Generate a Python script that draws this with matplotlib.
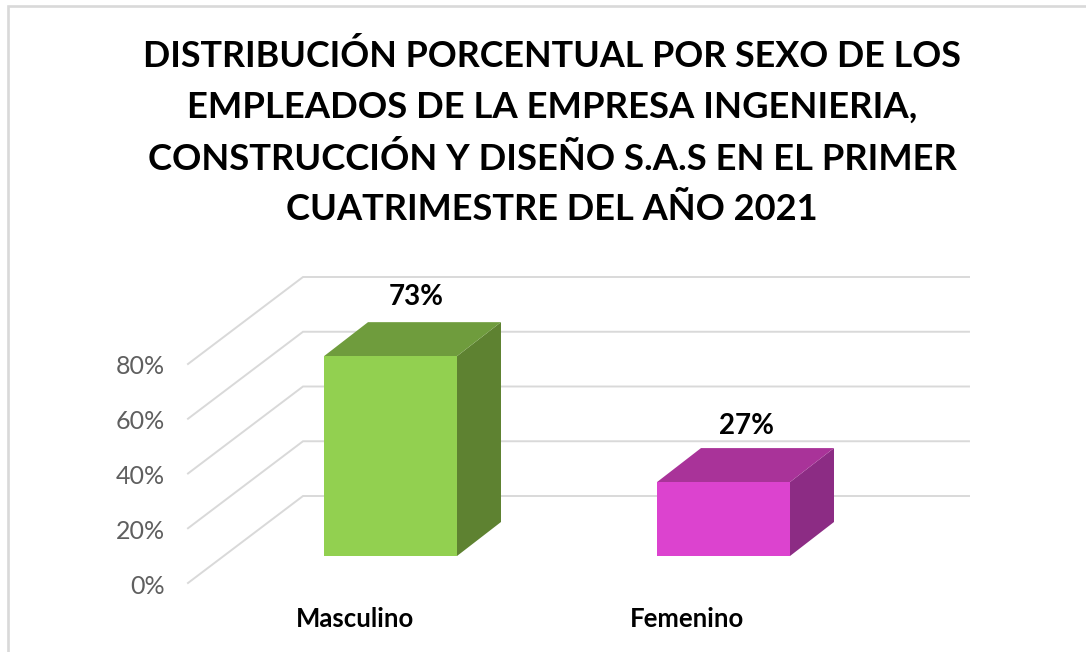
import matplotlib
matplotlib.use("Agg")
import matplotlib.pyplot as plt
from matplotlib.lines import Line2D
from matplotlib.patches import Polygon
from matplotlib.ticker import PercentFormatter
from matplotlib.transforms import Affine2D

categories = ["Masculino", "Femenino"]
values = [73, 27]
value_labels = ["73%", "27%"]
y_ticks = [0, 20, 40, 60, 80]
title_lines = [
    "DISTRIBUCIÓN PORCENTUAL POR SEXO DE LOS",
    "EMPLEADOS DE LA EMPRESA INGENIERIA,",
    "CONSTRUCCIÓN Y DISEÑO S.A.S EN EL PRIMER",
    "CUATRIMESTRE DEL AÑO 2021",
]
front_colors = ["#92D050", "#DC43CF"]
top_colors = ["#6F9C3D", "#A93399"]
side_colors = ["#5E8231", "#8C2C84"]
GRID = "#D9D9D9"
FONT = "Lato"

W, H = 1086, 652
fig = plt.figure(figsize=(W / 100, H / 100), dpi=100, facecolor="white")

# plot box in pixels of the front plane
L, R, T, B = 188, 854, 364, 583
ax = fig.add_axes([L / W, 1 - B / H, (R - L) / W, (B - T) / H])
ax.set_xlim(-0.5, 1.5)
ax.set_ylim(0, 80)
ax.patch.set_alpha(0)
for s in ax.spines.values():
    s.set_visible(False)

px_x = 2.0 / (R - L)      # data units per pixel, horizontal
px_y = 80.0 / (B - T)     # data units per pixel, vertical

# walls and floor grid
wall_dx, wall_dy = 115 * px_x, 87 * px_y
for t in y_ticks:
    ax.plot([-0.5, -0.5 + wall_dx, 1.5 + wall_dx], [t, t + wall_dy, t + wall_dy],
            color=GRID, lw=1.4, clip_on=False, zorder=1, solid_joinstyle="miter")

# pseudo 3D bars
off_x, off_y = 36 * px_x, 27 * px_y       # front face position in depth
deep_x, deep_y = 44 * px_x, 34 * px_y     # bar depth
bw = 133 * px_x
for i, v in enumerate(values):
    x0 = i + off_x - bw / 2
    x1 = x0 + bw
    y0 = off_y
    y1 = v + off_y
    ax.add_patch(Polygon([(x1, y0), (x1 + deep_x, y0 + deep_y), (x1 + deep_x, y1 + deep_y), (x1, y1)],
                         closed=True, fc=side_colors[i], ec="none", clip_on=False, zorder=3))
    ax.add_patch(Polygon([(x0, y1), (x1, y1), (x1 + deep_x, y1 + deep_y), (x0 + deep_x, y1 + deep_y)],
                         closed=True, fc=top_colors[i], ec="none", clip_on=False, zorder=3))
    ax.bar(i + off_x, v, width=bw, bottom=y0, color=front_colors[i], clip_on=False, zorder=4)

label_offsets = [(25.5, 59.5), (22.5, 56)]
for i, v in enumerate(values):
    ox, oy = label_offsets[i]
    ax.annotate(value_labels[i], xy=(i + off_x, v + off_y),
                xytext=(ox * 0.72, oy * 0.72), textcoords="offset points",
                ha="center", va="center", fontsize=20, fontweight="bold",
                family=FONT, color="black", zorder=6, annotation_clip=False)

ax.set_xticks(range(len(categories)), categories)
ax.set_yticks(y_ticks)
ax.yaxis.set_major_formatter(PercentFormatter(decimals=0))
ax.tick_params(axis="x", length=0, pad=17)
ax.tick_params(axis="y", length=0, pad=16.5)
for lab in ax.get_xticklabels():
    lab.set(fontsize=18.5, fontweight="bold", family=FONT, color="black")
for lab in ax.get_yticklabels():
    lab.set(fontsize=18, family=FONT, color="#5F5F5F")
    lab.set_transform(lab.get_transform() + Affine2D().translate(0, -1))

# title
title_sizes = [25.8, 26.3, 26.2, 26.1]
for line, yp, fs in zip(title_lines, [56, 107, 159, 210], title_sizes):
    fig.text(552 / W, 1 - yp / H, line, ha="center", va="center",
             fontsize=fs, fontweight="bold", family=FONT, color="black")

# frame of the source image
fig.add_artist(Line2D([8 / W, 8 / W, 1], [0, 1 - 5.5 / H, 1 - 5.5 / H],
                      color=GRID, lw=1.9, solid_joinstyle="miter", solid_capstyle="butt"))

fig.savefig("out.png", dpi=100, facecolor="white")
